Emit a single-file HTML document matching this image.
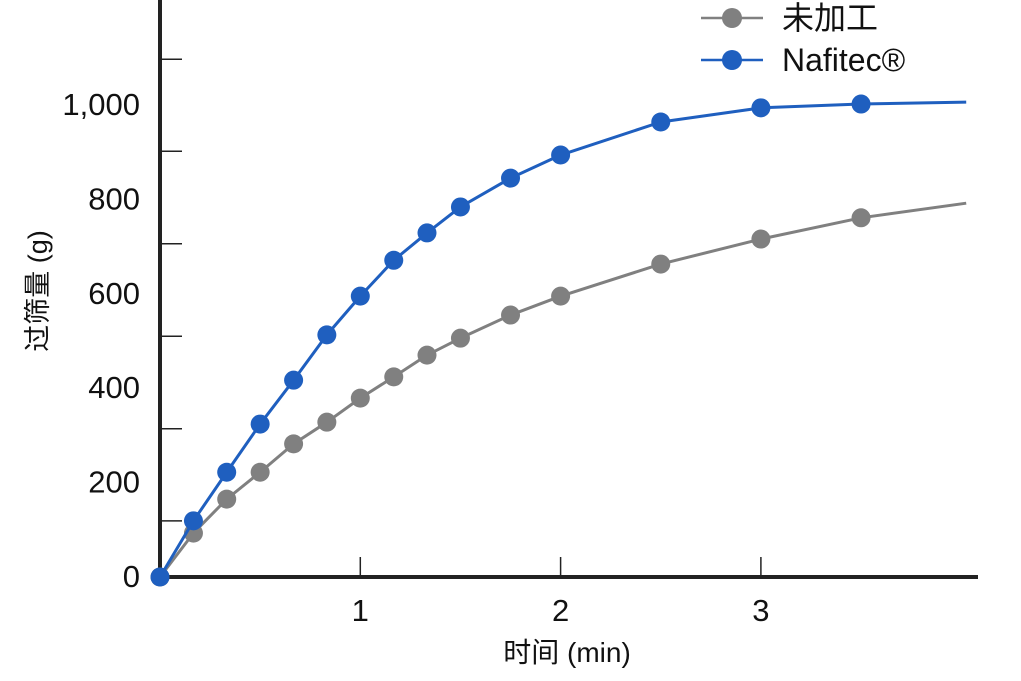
<!DOCTYPE html>
<html><head><meta charset="utf-8"><style>
body{margin:0;background:#fff;}
svg{display:block;font-family:"Liberation Sans","Noto Sans CJK JP",sans-serif;}
</style></head><body>
<svg id="c" width="1021" height="681" viewBox="0 0 1021 681"></svg>
<script>
const times=[0,0.167,0.333,0.5,0.667,0.833,1,1.167,1.333,1.5,1.75,2,2.5,3,3.5];
const nafitec=[0,119,222,324,417,513,595,671,729,784,845,894,964,994,1002];
const untreated=[0,93,165,222,282,328,379,424,470,506,555,595,663,716,761];
const endTime=4.025;
const nafitecEnd=1006;
const untreatedEnd=792;
const yTicks=[0,200,400,600,800,1000];
const yTickLabels=["0","200","400","600","800","1,000"];
const yMinorTicks=[119,314,510,706,902,1097];
const xTicks=[1,2,3];
const xTickLabels=["1","2","3"];
const NS="http://www.w3.org/2000/svg";
const svg=document.getElementById('c');
const X=t=>160+t*200.3;
const Y=v=>577-v*0.472;
function el(tag,a,parent){const e=document.createElementNS(NS,tag);for(const k in a)e.setAttribute(k,a[k]);(parent||svg).appendChild(e);return e;}
yMinorTicks.forEach(v=>{const t=el('line',{x1:162,x2:182,y1:Y(v),y2:Y(v),stroke:'#222','stroke-width':1.5});

});
yTicks.forEach((v,i)=>{
 const t=el('text',{x:140,y:Y(v)+10,'text-anchor':'end','font-size':31,fill:'#111','font-weight':'500'});t.textContent=yTickLabels[i];
 
 
});
xTicks.forEach((v,i)=>{
 const l=el('line',{x1:X(v),x2:X(v),y1:557,y2:577,stroke:'#222','stroke-width':1.5});
 
 
 const t=el('text',{x:X(v),y:621,'text-anchor':'middle','font-size':31,fill:'#111'});t.textContent=xTickLabels[i];
 
 
});
const ax=el('path',{d:'M160 0 V579 M158 577 H978',stroke:'#222','stroke-width':4,fill:'none'});


const dash=el('line',{x1:228,x2:248,y1:577,y2:577,stroke:'#222','stroke-width':3});


function series(vals,endV,color,name){
 const pts=times.map((t,i)=>X(t)+','+Y(vals[i])).concat([X(endTime)+','+Y(endV)]);
 const pl=el('polyline',{points:pts.join(' '),fill:'none',stroke:color,'stroke-width':3,'stroke-linejoin':'round'});
 
 
 times.forEach((t,i)=>{const c=el('circle',{cx:X(t),cy:Y(vals[i]),r:9.5,fill:color});
 
 });
}
series(untreated,untreatedEnd,'#808080','untreated');
series(nafitec,nafitecEnd,'#1f5fbf','nafitec');
function leg(y,color,label,name){
 const g=el('g',{});
 
 
 el('line',{x1:701,x2:763,y1:y,y2:y,stroke:color,'stroke-width':2.5},g);
 el('circle',{cx:732,cy:y,r:10,fill:color},g);
 const t=el('text',{x:782,y:y+11,'font-size':32,fill:'#111'},g);t.textContent=label;
}
leg(18,'#808080','未加工','legend-untreated');
leg(60,'#1f5fbf','Nafitec®','legend-nafitec');
const xt=el('text',{x:567,y:662,'text-anchor':'middle','font-size':28,fill:'#111'});xt.textContent='时间 (min)';


const yt=el('text',{x:0,y:0,'text-anchor':'middle','font-size':27,fill:'#111',transform:'translate(47 291) rotate(-90)'});yt.textContent='过筛量 (g)';


</script>
</body></html>
